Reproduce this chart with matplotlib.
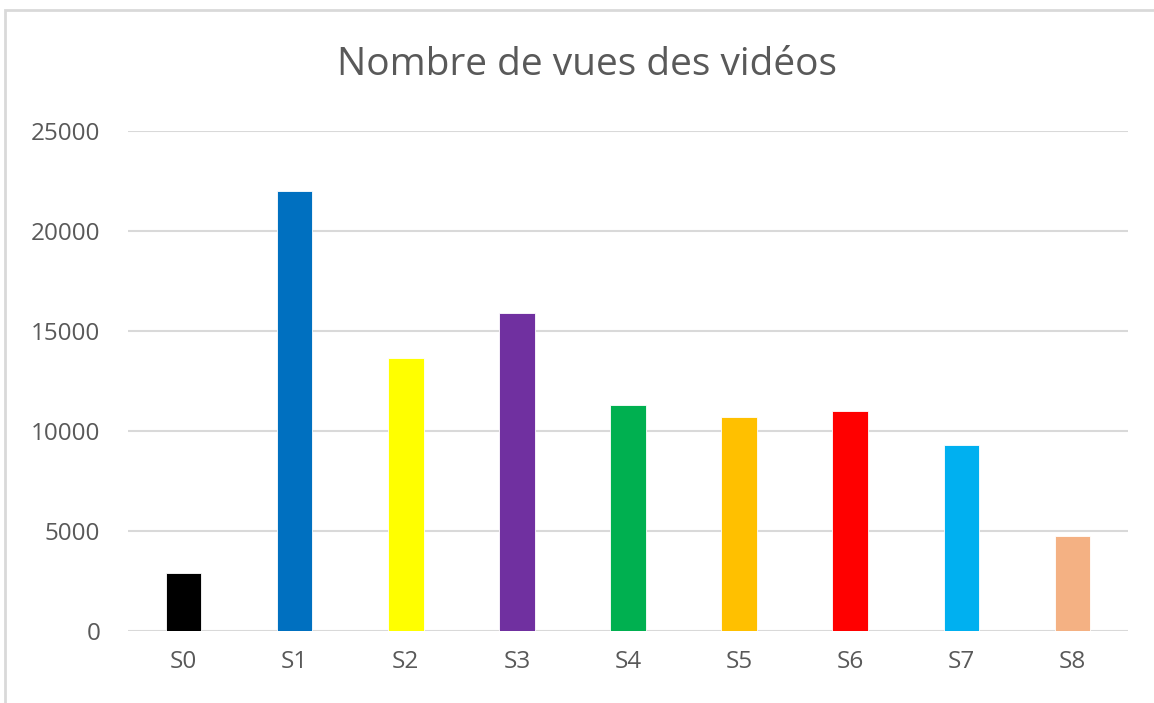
import matplotlib.pyplot as plt
from matplotlib.patches import Rectangle

categories = ["S0", "S1", "S2", "S3", "S4", "S5", "S6", "S7", "S8"]
views = [2900, 22000, 13650, 15900, 11300, 10700, 11000, 9300, 4750]
bar_colors = ["#000000", "#0070C0", "#FFFF00", "#7030A0", "#00B050",
              "#FFC000", "#FF0000", "#00B0F0", "#F4B183"]
y_ticks = [0, 5000, 10000, 15000, 20000, 25000]

plt.rcParams['font.family'] = ['Open Sans', 'DejaVu Sans']

fig = plt.figure(figsize=(11.54, 7.03), dpi=100)
ax = fig.add_axes([128/1154, 1-631/703, 1000/1154, 500/703])

x = range(len(categories))
ax.bar(x, views, width=0.32, color=bar_colors, edgecolor="white", linewidth=0.6, zorder=3)

ax.set_xlim(-0.5, len(categories)-0.5)
ax.set_ylim(0, 25000)
ax.set_yticks(y_ticks)
ax.set_yticklabels([str(v) for v in y_ticks])
ax.set_xticks(list(x))
ax.set_xticklabels(categories)
ax.tick_params(length=0, labelsize=17.5, labelcolor="#595959")
ax.tick_params(axis="y", pad=20)
ax.tick_params(axis="x", pad=14)
ax.grid(axis="y", color="#d9d9d9", linewidth=1.5, zorder=0)
for s in ax.spines.values():
    s.set_visible(False)

fig.text(587/1154, 1-65/703, "Nombre de vues des vidéos", ha="center", va="center",
         fontsize=28, color="#595959")

# cadre du graphique (coins haut/gauche visibles)
fig.add_artist(Rectangle((5/1154, -0.1), 1.2, 1.1-10/703, transform=fig.transFigure,
                         fill=False, edgecolor="#d9d9d9", linewidth=2))

fig.savefig("out.png", dpi=100)
